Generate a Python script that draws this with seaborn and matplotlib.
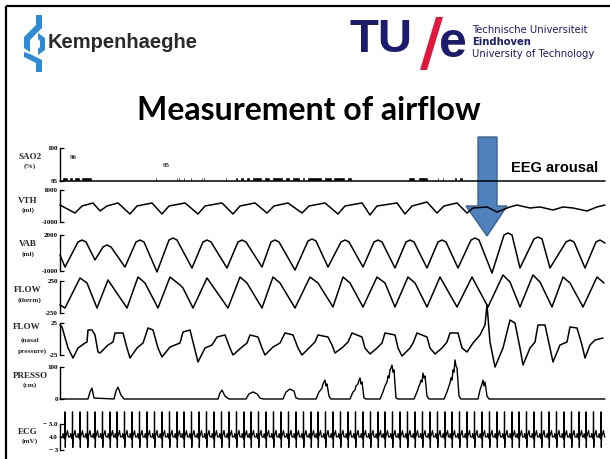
import numpy as np
import matplotlib
matplotlib.use("Agg")
import matplotlib.pyplot as plt
import seaborn as sns
from matplotlib.patches import Polygon

sns.set_theme(style="white")
plt.rcParams['font.family'] = ['DejaVu Sans']

# ---------------- data (time in s, values in signal units) ----------------
T_END = 54.5

sao2_level_t = [0.0, 54.5]
sao2_level_v = [95.0, 95.0]
# (start, width) of the short desaturation marks on the SaO2 channel
sao2_marks = [(0.2, 0.6), (0.9, 0.4), (1.4, 0.6), (2.1, 1.1), (9.5, 0.15), (11.6, 0.15),
              (11.8, 0.15), (12.3, 0.15), (13.0, 0.15), (14.1, 0.15), (14.3, 0.15),
              (16.5, 0.15), (17.5, 0.3), (18.0, 0.4), (18.6, 0.4), (19.2, 1.0), (20.4, 0.6),
              (21.2, 1.1), (22.5, 0.5), (23.2, 0.8), (24.2, 0.3), (24.7, 1.5), (26.4, 0.8),
              (27.3, 1.2), (28.7, 0.5), (34.8, 0.7), (35.8, 1.0), (37.7, 0.2), (38.2, 0.2),
              (39.4, 0.3), (39.9, 0.4)]

vth_points = [(0.0, 60), (1.5, -440), (2.2, 0), (3.3, 190), (4.0, -310), (4.7, 0), (5.8, 190),
              (7.0, -500), (7.7, 0), (9.2, 190), (10.2, -500), (10.9, 0), (12.5, 190),
              (13.8, -500), (14.5, 0), (16.2, 190), (17.3, -500), (18.0, 0), (19.5, 190),
              (20.7, -440), (21.4, 0), (22.8, 190), (24.2, -440), (24.9, 0), (26.5, 190),
              (27.8, -500), (28.5, 0), (30.2, 190), (31.0, -560), (31.7, 0), (33.7, 190),
              (34.5, -500), (35.2, 0), (36.7, 250), (37.7, -440), (38.4, 0), (39.7, 190),
              (40.7, -440), (41.3, -125), (42.7, -60), (43.7, -375), (45.0, -60), (45.7, 60),
              (47.0, -125), (48.0, -60), (49.3, -250), (50.3, -60), (51.3, -125), (52.7, -310),
              (53.7, -60), (54.5, 60)]

vab_points = [(0.0, 330), (0.5, -670), (1.8, 1420), (2.2, 1580), (2.6, 1420), (3.5, -80),
              (4.3, 1000), (4.7, 1170), (5.1, 1000), (6.5, -670), (7.6, 1420), (8.0, 1580),
              (8.4, 1420), (9.7, -1080), (10.9, 1580), (11.3, 1750), (11.7, 1580), (13.2, -750),
              (14.3, 1420), (14.7, 1580), (15.1, 1420), (16.7, -750), (17.8, 1420), (18.2, 1580),
              (18.6, 1420), (20.2, -670), (21.1, 1420), (21.5, 1580), (21.9, 1420), (23.5, -920),
              (24.8, 1500), (25.2, 1670), (25.6, 1500), (26.8, -670), (28.1, 1420), (28.5, 1580),
              (28.9, 1420), (30.3, -670), (31.4, 1420), (31.8, 1580), (32.2, 1420), (33.5, -750),
              (34.6, 1420), (35.0, 1580), (35.4, 1420), (36.7, -750), (37.8, 1420), (38.2, 1580),
              (38.6, 1420), (39.8, -750), (41.1, 1580), (41.5, 1750), (41.9, 1580), (43.2, -1170),
              (44.4, 2000), (44.8, 2170), (45.2, 2000), (46.0, -750), (47.4, 1670), (47.8, 1830),
              (48.2, 1670), (49.0, -750), (50.6, 1420), (51.0, 1580), (51.4, 1420), (52.5, -750),
              (53.6, 1420), (54.0, 1580), (54.5, 1330)]

flow_points = [(0.0, -125), (0.5, -172), (2.0, 297), (2.7, 219), (3.7, -172), (4.8, 266),
               (6.7, -172), (7.8, 312), (8.5, 219), (9.8, -172), (11.0, 312), (12.0, 188),
               (12.3, 141), (13.3, -172), (14.7, 297), (16.8, -172), (18.0, 312), (18.7, 219),
               (20.2, -172), (21.3, 312), (22.0, 219), (23.5, -172), (25.0, 312), (25.8, 219),
               (27.3, -156), (28.3, 312), (29.0, 219), (30.3, -156), (31.7, 312), (32.5, 219),
               (33.5, -156), (34.8, 312), (35.5, 219), (36.7, -156), (38.0, 312), (39.7, -156),
               (41.2, 312), (42.8, -156), (44.3, 344), (45.0, 234), (46.0, -156), (47.3, 344),
               (48.0, 234), (49.2, -156), (50.3, 312), (51.0, 219), (52.3, -156), (53.7, 312),
               (54.4, 219)]

nasal_points = [(0.0, 21.9), (0.2, 18.8), (0.8, -14.1), (1.3, -29.7), (1.8, -14.1), (2.5, -6.3),
                (2.7, -4.7), (2.8, 14.1), (3.2, 14.1), (3.5, 6.3), (3.8, -20.3), (4.0, -21.9),
                (4.8, -9.4), (5.3, -4.7), (5.5, 9.4), (6.3, 9.4), (6.7, -14.1), (7.0, -29.7),
                (7.7, -14.1), (8.3, -6.3), (8.8, 17.2), (9.3, 14.1), (9.8, -14.1), (10.2, -28.1),
                (11.0, -12.5), (12.0, -6.3), (12.3, 10.9), (13.0, 14.1), (13.3, -4.7),
                (13.8, -35.9), (14.5, -14.1), (15.2, -9.4), (15.7, 3.1), (16.5, 6.3),
                (17.0, -14.1), (17.3, -25.0), (18.2, -12.5), (18.7, -6.3), (19.0, 6.3),
                (19.8, 3.1), (20.2, -14.1), (20.5, -25.0), (21.3, -12.5), (22.0, -6.3),
                (22.5, 9.4), (23.3, 6.3), (23.8, -14.1), (24.2, -25.0), (25.0, -12.5),
                (25.5, -4.7), (25.8, 6.3), (26.8, 3.1), (27.2, -9.4), (27.5, -21.9),
                (28.3, -12.5), (28.8, -4.7), (29.2, 9.4), (30.2, 3.1), (30.5, -14.1),
                (31.0, -23.4), (31.7, -14.1), (32.2, -6.3), (32.5, 9.4), (33.5, 6.3),
                (33.8, -14.1), (34.2, -26.6), (35.0, -14.1), (35.3, -6.3), (35.7, 9.4),
                (36.7, 3.1), (37.0, -14.1), (37.5, -23.4), (38.2, -14.1), (38.7, -4.7),
                (39.0, 9.4), (39.8, 9.4), (40.2, -14.1), (40.7, -20.3), (41.3, -6.3),
                (42.0, 6.3), (42.5, 21.9), (42.7, 53.1), (43.0, -4.7), (43.5, -43.8),
                (44.3, -14.1), (45.0, 29.7), (45.5, 25.0), (46.0, -14.1), (46.3, -40.6),
                (47.0, -14.1), (47.5, -4.7), (47.8, 21.9), (48.5, 21.9), (49.0, -14.1),
                (49.3, -35.9), (50.0, -9.4), (50.7, -4.7), (51.0, 18.8), (51.7, 17.2),
                (52.2, -9.4), (52.5, -29.7), (53.0, -9.4), (53.5, -1.6), (54.3, 1.6)]

press_points = [(0.0, 0), (2.8, 0), (3.0, 22), (3.2, 34), (3.4, 3), (5.4, 0), (5.6, 25),
                (5.8, 37), (6.1, 12), (6.4, 0), (15.8, 0), (16.0, 19), (16.2, 28), (16.5, 9),
                (16.9, 0), (18.6, 0), (18.9, 16), (19.3, 22), (19.7, 16), (20.0, 3), (20.3, 0),
                (22.3, 0), (22.6, 22), (23.0, 31), (23.4, 25), (23.6, 3), (23.9, 0), (25.6, 0),
                (25.9, 22), (26.2, 34), (26.3, 47), (26.5, 59), (26.6, 41), (26.7, 47),
                (26.9, 9), (27.1, 0), (29.0, 0), (29.3, 22), (29.5, 28), (29.6, 41), (29.8, 47),
                (29.9, 59), (30.0, 66), (30.1, 47), (30.2, 53), (30.4, 3), (30.6, 0), (32.0, 0),
                (32.3, 22), (32.5, 41), (32.7, 53), (32.8, 72), (32.9, 66), (33.0, 91),
                (33.1, 97), (33.2, 106), (33.3, 84), (33.4, 91), (33.6, 3), (33.8, 0),
                (35.4, 0), (35.7, 22), (35.9, 41), (36.0, 47), (36.1, 59), (36.2, 53),
                (36.3, 81), (36.4, 66), (36.5, 72), (36.7, 9), (36.9, 0), (38.4, 0), (38.7, 22),
                (38.9, 41), (39.0, 50), (39.1, 66), (39.2, 59), (39.3, 91), (39.4, 84),
                (39.5, 122), (39.6, 103), (39.7, 97), (39.9, 9), (40.1, 0), (41.8, 0),
                (42.0, 28), (42.2, 47), (42.3, 59), (42.4, 41), (42.5, 53), (42.7, 9),
                (42.9, 0), (54.5, 0)]

ecg_r_times = [0.5, 1.25, 2.0, 2.75, 3.5, 4.25, 5.0, 5.7, 6.45, 7.2, 7.95, 8.7, 9.45, 10.2,
               10.95, 11.7, 12.4, 13.15, 13.9, 14.65, 15.4, 16.15, 16.9, 17.65, 18.4, 19.1,
               19.85, 20.6, 21.35, 22.1, 22.85, 23.6, 24.35, 25.1, 25.8, 26.55, 27.3, 28.05,
               28.8, 29.55, 30.3, 31.05, 31.8, 32.5, 33.25, 34.0, 34.75, 35.5, 36.25, 37.0,
               37.75, 38.5, 39.2, 39.95, 40.7, 41.45, 42.2, 42.95, 43.7, 44.45, 45.2, 45.9,
               46.65, 47.4, 48.15, 48.9, 49.65, 50.4, 51.15, 51.9, 52.6, 53.35, 54.1]
ecg_beat_dt = [-0.25, -0.18, -0.12, -0.05, -0.02, 0.0, 0.03, 0.06, 0.15, 0.25, 0.35]
ecg_beat_v = [0.0, 0.8, 0.0, -0.4, 1.0, 5.8, -2.4, 0.0, 0.6, 1.5, 0.0]

# ---------------- figure ----------------
W, H = 610, 459
X0, X1 = 60, 605
fig = plt.figure(figsize=(W / 100, H / 100), dpi=100)
fig.patch.set_facecolor('white')
deco = fig.add_axes([0, 0, 1, 1], zorder=0)
deco.set_xlim(0, W)
deco.set_ylim(H, 0)
deco.axis('off')

# slide frame
deco.plot([5.5, 5.5], [5.5, H], color='black', lw=1.6, solid_capstyle='butt')
deco.plot([5.5, W], [5.5, 5.5], color='black', lw=1.6, solid_capstyle='butt')

# Kempenhaeghe logo
kblue = '#2e8bd6'
for poly in [
    [(36, 15), (42, 15), (42, 28), (30, 40), (30, 52), (24, 48), (24, 37), (36, 25)],
    [(30, 54), (42, 60), (42, 72), (36, 72), (36, 63), (24, 57), (24, 52)],
    [(38, 33), (45, 38), (45, 50), (38, 55), (38, 49), (40, 47), (40, 41), (38, 39)],
]:
    deco.add_patch(Polygon(poly, closed=True, facecolor=kblue, edgecolor='none'))
deco.text(48, 43, "Kempenhaeghe", fontsize=14.5, fontweight='bold', color='#2a2a2a',
          family='Liberation Sans', ha='left', va='center')

# TU/e logo
navy = '#1b1c6e'
deco.text(350, 40, "TU", fontsize=34, fontweight='bold', color=navy,
          family='Liberation Sans', ha='left', va='center')
deco.add_patch(Polygon([(436, 17), (443, 17), (427, 70), (420, 70)], closed=True,
                       facecolor='#e2173d', edgecolor='none'))
deco.text(439, 44, "e", fontsize=36, fontweight='bold', color=navy,
          family='Liberation Sans', ha='left', va='center')
deco.text(472, 30, "Technische Universiteit", fontsize=7.2, color=navy, ha='left', va='center')
deco.text(472, 42, "Eindhoven", fontsize=7.2, fontweight='bold', color=navy, ha='left', va='center')
deco.text(472, 54, "University of Technology", fontsize=7.2, color=navy, ha='left', va='center')

# title
deco.text(309, 111, "Measurement of airflow", fontsize=23, fontweight='bold', color='black',
          family='Lato', ha='center', va='center')

# arousal arrow
deco.add_patch(Polygon([(478, 137), (497, 137), (497, 206), (507, 206), (487, 236),
                        (466, 206), (478, 206)], closed=True, facecolor='#4f81bd',
                       edgecolor='#3a6496', lw=1.0))
deco.text(511, 168, "EEG arousal", fontsize=10.5, fontweight='bold', color='black',
          family='Liberation Sans', ha='left', va='center')

# channel labels
serif = 'Liberation Serif'
chan_labels = [("SAO2", 30, 157), ("(%)", 30, 166), ("VTH", 28, 201), ("(ml)", 28, 210),
               ("VAB", 28, 244), ("(ml)", 28, 254), ("FLOW", 28, 290), ("(therm)", 30, 300),
               ("FLOW", 27, 327), ("(nasal", 30, 340), ("pressure)", 32, 351),
               ("PRESSO", 30, 376), ("(cm)", 30, 385), ("ECG", 28, 432), ("(mV)", 30, 441)]
for txt, x, y in chan_labels:
    deco.text(x, y, txt, fontsize=6.5 if txt.isupper() else 5.2, fontweight='bold',
              family=serif, ha='center', va='center')


def trace_axes(top, bottom, ylo, yhi, ticks, ticklabels):
    ax = fig.add_axes([X0 / W, 1 - bottom / H, (X1 - X0) / W, (bottom - top) / H], zorder=2)
    ax.set_facecolor('none')
    ax.set_xlim(0, T_END)
    ax.set_ylim(ylo, yhi)
    for s in ['top', 'right', 'bottom']:
        ax.spines[s].set_visible(False)
    ax.spines['left'].set_color('black')
    ax.spines['left'].set_linewidth(1.0)
    ax.set_xticks([])
    ax.set_yticks(ticks)
    ax.set_yticklabels(ticklabels, fontsize=5, fontweight='bold', family=serif)
    ax.tick_params(axis='y', direction='in', length=3, width=0.9, pad=1.5, colors='black',
                   left=True)
    ax.grid(False)
    return ax


def draw(ax, pts, lw=1.1):
    t = [p[0] for p in pts]
    v = [p[1] for p in pts]
    sns.lineplot(x=t, y=v, ax=ax, color='black', linewidth=lw, estimator=None, sort=False)
    for ln in ax.lines:
        ln.set_clip_on(False)


# SaO2
ax = trace_axes(148, 181, 95, 100, [95, 100], ["95", "100"])
sns.lineplot(x=sao2_level_t, y=sao2_level_v, ax=ax, color='black', linewidth=1.1,
             estimator=None)
for ln in ax.lines:
    ln.set_clip_on(False)
ax.broken_barh(sao2_marks, (95, 0.6), facecolors='black')
ax.text(1.0, 98.6, "96", fontsize=5, fontweight='bold', family=serif, ha='left', va='center')
ax.text(10.3, 97.3, "95", fontsize=5, fontweight='bold', family=serif, ha='left', va='center')

ax = trace_axes(190, 222, -1000, 1000, [-1000, 1000], ["-1000", "1000"])
draw(ax, vth_points)
ax = trace_axes(235, 271, -1000, 2000, [-1000, 2000], ["-1000", "2000"])
draw(ax, vab_points)
ax = trace_axes(281, 313, -250, 250, [-250, 250], ["-250", "250"])
draw(ax, flow_points)
ax = trace_axes(323, 355, -25, 25, [-25, 25], ["-25", "25"])
draw(ax, nasal_points)
ax = trace_axes(367, 399, 0, 100, [0, 100], ["0", "100"])
draw(ax, press_points, lw=1.0)

# ECG
ax = trace_axes(424, 450, -3, 3, [-3, 0, 3], ["\u2212 3", "4.0", "\u2212 3.0"])
beat_dt = np.array(ecg_beat_dt)
ecg_t = np.concatenate([[0.0]] + [r + beat_dt for r in ecg_r_times] + [[T_END]])
ecg_v = np.concatenate([[0.0]] + [np.array(ecg_beat_v) for _ in ecg_r_times] + [[0.0]])
draw(ax, list(zip(ecg_t, ecg_v)), lw=0.9)

fig.savefig("out.png", dpi=100, facecolor='white')
